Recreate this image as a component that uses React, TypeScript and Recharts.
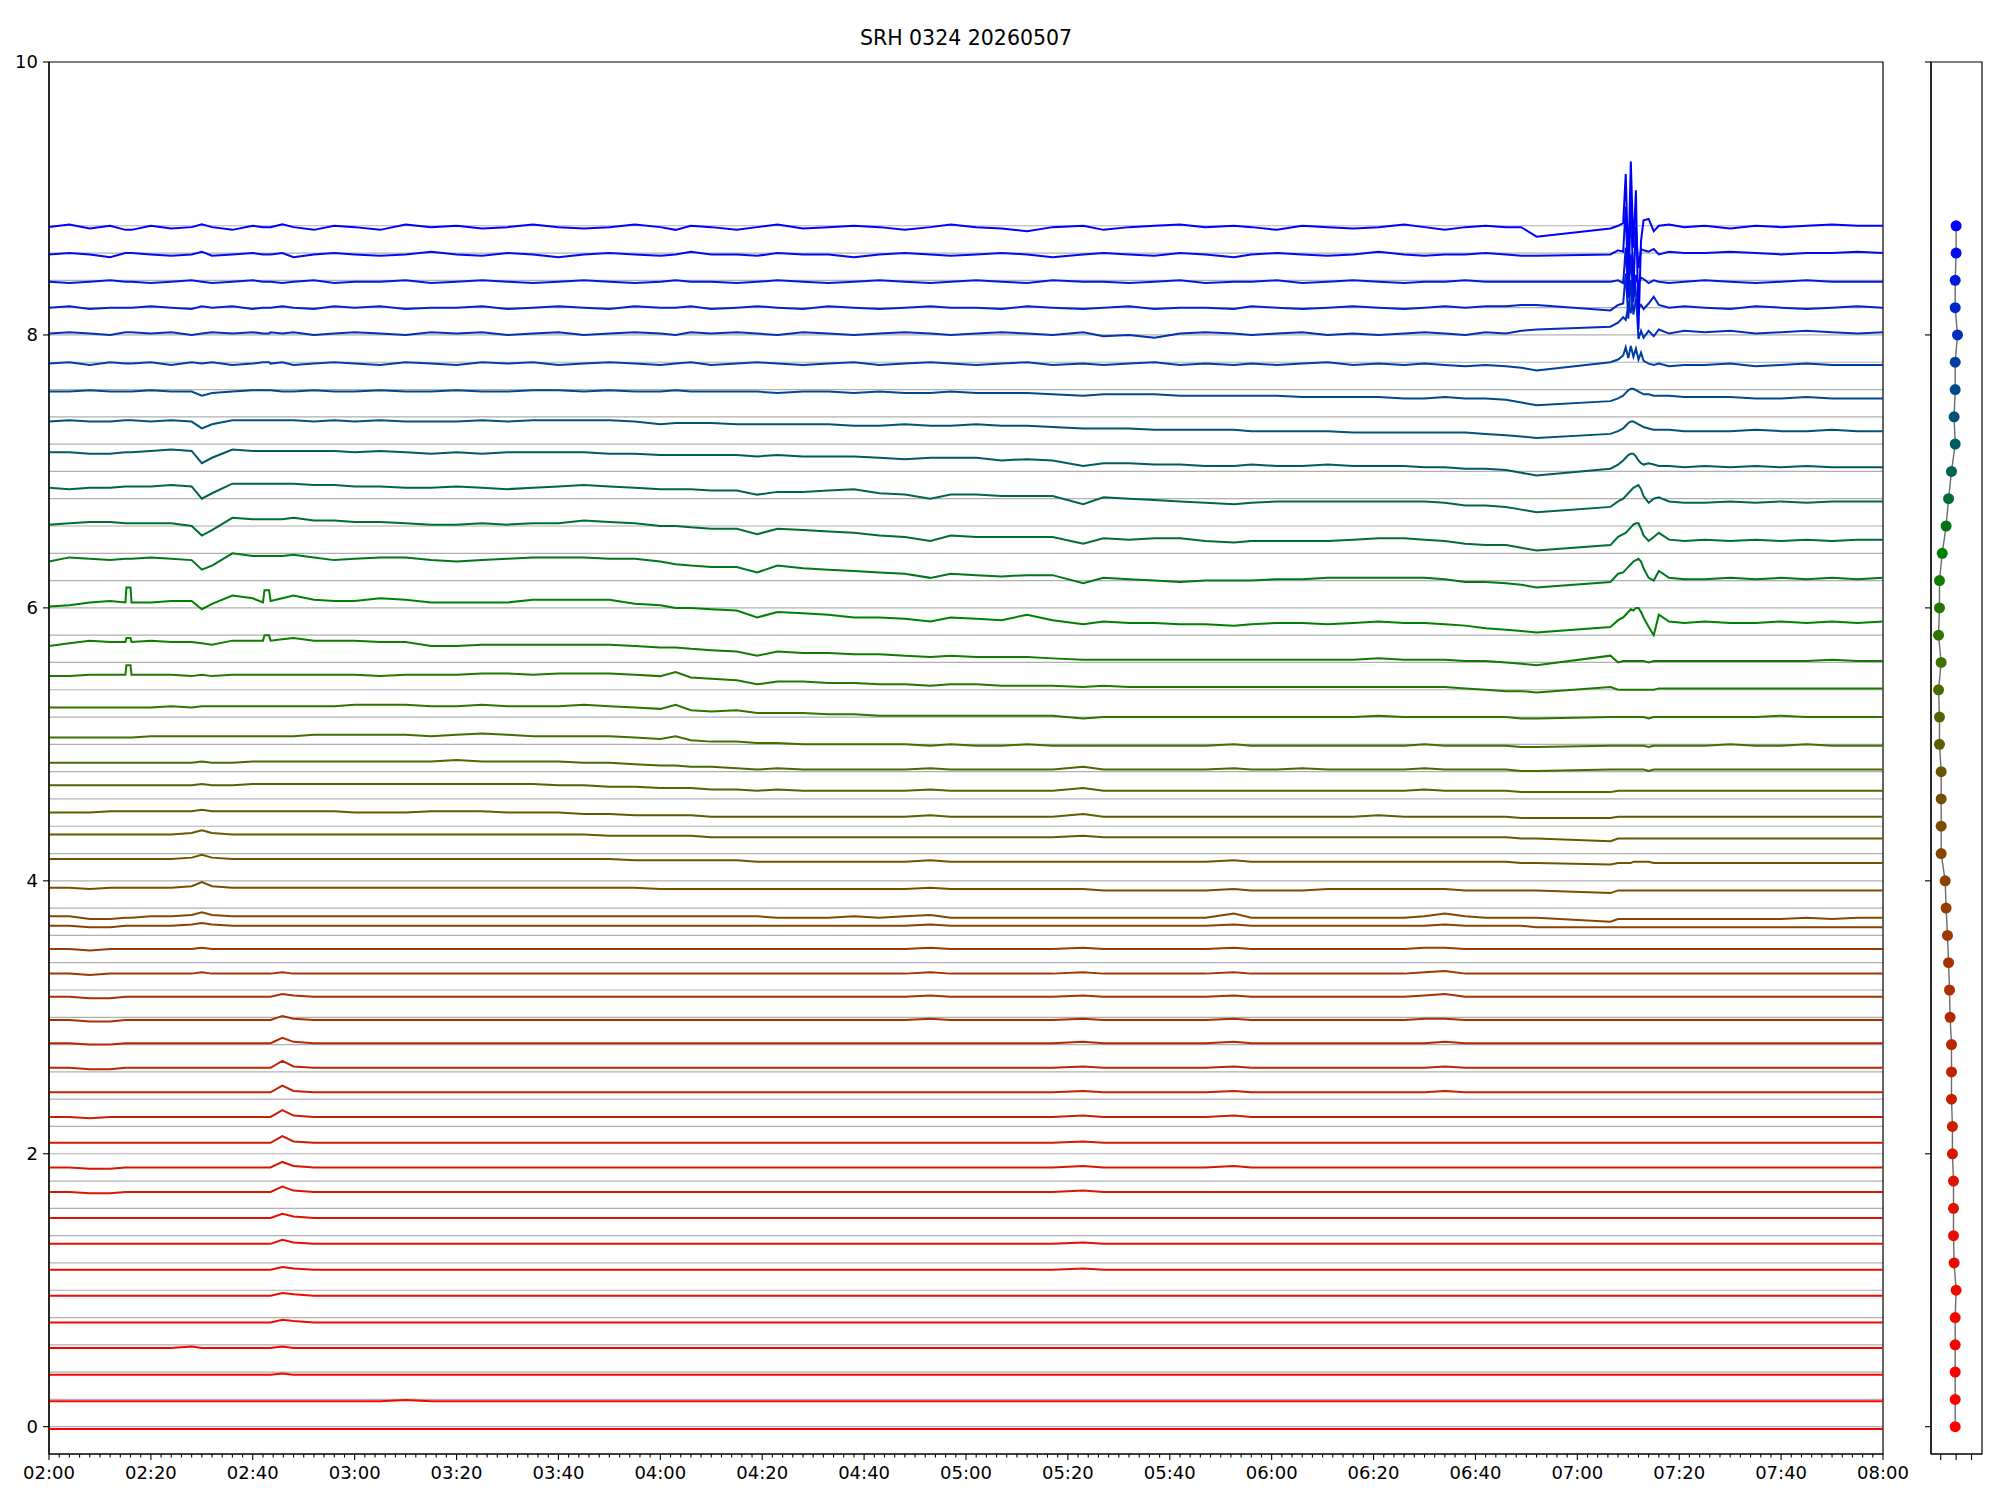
import React from 'react';
import {
  LineChart,
  Line,
  XAxis,
  YAxis,
  CartesianGrid,
  ReferenceArea,
  ComposedChart,
  Scatter,
} from 'recharts';

// sample times, minutes after 02:00 (no data between 06:52 and 07:06)
const minutes = [
  0, 4, 8, 12, 15, 15.2, 16, 16.2, 20, 24,
  28, 30, 32, 36, 40, 42, 42.3, 43.2, 43.5, 45.8,
  48, 52, 56, 60, 65, 70, 75, 80, 85, 90,
  95, 100, 105, 110, 115, 120, 123, 126, 130, 135,
  139, 143, 148, 153, 158, 163, 168, 173, 177, 182,
  187, 192, 197, 203, 207, 212, 217, 222, 227, 232.6,
  236, 241, 246, 251, 256, 261, 266, 270, 274, 278,
  282, 286, 289, 292, 306.5, 308, 309, 309.5, 310, 310.5,
  311, 311.5, 312, 312.5, 313, 314, 315, 316, 318, 321,
  325, 330, 335, 340, 345, 350, 355, 360,
];

const timeLabels = [
  '02:00', '02:20', '02:40', '03:00', '03:20', '03:40', '04:00', '04:20', '04:40', '05:00',
  '05:20', '05:40', '06:00', '06:20', '06:40', '07:00', '07:20', '07:40', '08:00',
];
const yTicks = [0, 2, 4, 6, 8, 10];
const sideTicks = [-1, 0, 1];

// channel slots (grey guide lines and the dots on the right panel)
const nominalLevels = [
  0, 0.2, 0.4, 0.6, 0.8, 1.0, 1.2, 1.4, 1.6, 1.8,
  2.0, 2.2, 2.4, 2.6, 2.8, 3.0, 3.2, 3.4, 3.6, 3.8,
  4.0, 4.2, 4.4, 4.6, 4.8, 5.0, 5.2, 5.4, 5.6, 5.8,
  6.0, 6.2, 6.4, 6.6, 6.8, 7.0, 7.2, 7.4, 7.6, 7.8,
  8.0, 8.2, 8.4, 8.6, 8.8,
];

// where each trace starts at 02:00
const startLevels = [
  -0.017, 0.186, 0.38, 0.577, 0.764, 0.96, 1.15, 1.34, 1.53, 1.72,
  1.9, 2.08, 2.27, 2.45, 2.63, 2.81, 2.98, 3.15, 3.32, 3.5,
  3.67, 3.74, 3.95, 4.16, 4.34, 4.5, 4.7, 4.865, 5.05, 5.27,
  5.5, 5.72, 6.01, 6.34, 6.61, 6.88, 7.14, 7.365, 7.585, 7.79,
  8.01, 8.2, 8.39, 8.59, 8.79,
];

// right panel x value per channel
const dotShift = [
  -0.06, -0.06, -0.06, -0.06, -0.06, 0, -0.13, -0.17, -0.17, -0.17,
  -0.24, -0.24, -0.3, -0.3, -0.3, -0.39, -0.43, -0.49, -0.56, -0.65,
  -0.71, -0.97, -0.97, -0.97, -0.97, -1.08, -1.08, -1.14, -0.97, -1.14,
  -1.08, -1.08, -0.9, -0.65, -0.49, -0.3, -0.06, -0.13, -0.06, -0.06,
  0.09, -0.06, -0.06, 0, 0,
];

// offsets from the start level, in hundredths, one value per sample time
const ch00 = [0,0,0,0,0,0,0,0,0,0, 0,0,0,0,0,0,0,0,0,0, 0,0,0,0,0,0,0,0,0,0, 0,0,0,0,0,0,0,0,0,0, 0,0,0,0,0,0,0,0,0,0, 0,0,0,0,0,0,0,0,0,0, 0,0,0,0,0,0,0,0,0,0, 0,0,0,0,0,0,0,0,0,0, 0,0,0,0,0,0,0,0,0,0, 0,0,0,0,0,0,0,0];
const ch01 = [0,0,0,0,0,0,0,0,0,0, 0,0,0,0,0,0,0,0,0,0, 0,0,0,0,0,1,0,0,0,0, 0,0,0,0,0,0,0,0,0,0, 0,0,0,0,0,0,0,0,0,0, 0,0,0,0,0,0,0,0,0,0, 0,0,0,0,0,0,0,0,0,0, 0,0,0,0,0,0,0,0,0,0, 0,0,0,0,0,0,0,0,0,0, 0,0,0,0,0,0,0,0];
const ch02 = [0,0,0,0,0,0,0,0,0,0, 0,0,0,0,0,0,0,0,0,1, 0,0,0,0,0,0,0,0,0,0, 0,0,0,0,0,0,0,0,0,0, 0,0,0,0,0,0,0,0,0,0, 0,0,0,0,0,0,0,0,0,0, 0,0,0,0,0,0,0,0,0,0, 0,0,0,0,0,0,0,0,0,0, 0,0,0,0,0,0,0,0,0,0, 0,0,0,0,0,0,0,0];
const ch03 = [0,0,0,0,0,0,0,0,0,0, 1,0,0,0,0,0,0,0,0,1, 0,0,0,0,0,0,0,0,0,0, 0,0,0,0,0,0,0,0,0,0, 0,0,0,0,0,0,0,0,0,0, 0,0,0,0,0,0,0,0,0,0, 0,0,0,0,0,0,0,0,0,0, 0,0,0,0,0,0,0,0,0,0, 0,0,0,0,0,0,0,0,0,0, 0,0,0,0,0,0,0,0];
const ch04 = [0,0,0,0,0,0,0,0,0,0, 0,0,0,0,0,0,0,0,0,2, 1,0,0,0,0,0,0,0,0,0, 0,0,0,0,0,0,0,0,0,0, 0,0,0,0,0,0,0,0,0,0, 0,0,0,0,0,0,0,0,0,0, 0,0,0,0,0,0,0,0,0,0, 0,0,0,0,0,0,0,0,0,0, 0,0,0,0,0,0,0,0,0,0, 0,0,0,0,0,0,0,0];
const ch05 = [0,0,0,0,0,0,0,0,0,0, 0,0,0,0,0,0,0,0,0,2, 1,0,0,0,0,0,0,0,0,0, 0,0,0,0,0,0,0,0,0,0, 0,0,0,0,0,0,0,0,0,0, 0,0,0,0,0,0,0,0,0,0, 0,0,0,0,0,0,0,0,0,0, 0,0,0,0,0,0,0,0,0,0, 0,0,0,0,0,0,0,0,0,0, 0,0,0,0,0,0,0,0];
const ch06 = [0,0,0,0,0,0,0,0,0,0, 0,0,0,0,0,0,0,0,0,2, 1,0,0,0,0,0,0,0,0,0, 0,0,0,0,0,0,0,0,0,0, 0,0,0,0,0,0,0,0,0,0, 0,0,0,1,0,0,0,0,0,0, 0,0,0,0,0,0,0,0,0,0, 0,0,0,0,0,0,0,0,0,0, 0,0,0,0,0,0,0,0,0,0, 0,0,0,0,0,0,0,0];
const ch07 = [0,0,0,0,0,0,0,0,0,0, 0,0,0,0,0,0,0,0,0,3, 1,0,0,0,0,0,0,0,0,0, 0,0,0,0,0,0,0,0,0,0, 0,0,0,0,0,0,0,0,0,0, 0,0,0,1,0,0,0,0,0,0, 0,0,0,0,0,0,0,0,0,0, 0,0,0,0,0,0,0,0,0,0, 0,0,0,0,0,0,0,0,0,0, 0,0,0,0,0,0,0,0];
const ch08 = [0,0,0,0,0,0,0,0,0,0, 0,0,0,0,0,0,0,0,0,3, 1,0,0,0,0,0,0,0,0,0, 0,0,0,0,0,0,0,0,0,0, 0,0,0,0,0,0,0,0,0,0, 0,0,0,0,0,0,0,0,0,0, 0,0,0,0,0,0,0,0,0,0, 0,0,0,0,0,0,0,0,0,0, 0,0,0,0,0,0,0,0,0,0, 0,0,0,0,0,0,0,0];
const ch09 = [0,0,-1,-1,0,0,0,0,0,0, 0,0,0,0,0,0,0,0,0,4, 1,0,0,0,0,0,0,0,0,0, 0,0,0,0,0,0,0,0,0,0, 0,0,0,0,0,0,0,0,0,0, 0,0,0,1,0,0,0,0,0,0, 0,0,0,0,0,0,0,0,0,0, 0,0,0,0,0,0,0,0,0,0, 0,0,0,0,0,0,0,0,0,0, 0,0,0,0,0,0,0,0];
const ch10 = [0,0,-1,-1,0,0,0,0,0,0, 0,0,0,0,0,0,0,0,0,4, 1,0,0,0,0,0,0,0,0,0, 0,0,0,0,0,0,0,0,0,0, 0,0,0,0,0,0,0,0,0,0, 0,0,0,1,0,0,0,0,0,1, 0,0,0,0,0,0,0,0,0,0, 0,0,0,0,0,0,0,0,0,0, 0,0,0,0,0,0,0,0,0,0, 0,0,0,0,0,0,0,0];
const ch11 = [0,0,0,0,0,0,0,0,0,0, 0,0,0,0,0,0,0,0,0,5, 1,0,0,0,0,0,0,0,0,0, 0,0,0,0,0,0,0,0,0,0, 0,0,0,0,0,0,0,0,0,0, 0,0,0,1,0,0,0,0,0,0, 0,0,0,0,0,0,0,0,0,0, 0,0,0,0,0,0,0,0,0,0, 0,0,0,0,0,0,0,0,0,0, 0,0,0,0,0,0,0,0];
const ch12 = [0,0,-1,0,0,0,0,0,0,0, 0,0,0,0,0,0,0,0,0,5, 1,0,0,0,0,0,0,0,0,0, 0,0,0,0,0,0,0,0,0,0, 0,0,0,0,0,0,0,0,0,0, 0,0,0,1,0,0,0,0,0,1, 0,0,0,0,0,0,0,0,0,0, 0,0,0,0,0,0,0,0,0,0, 0,0,0,0,0,0,0,0,0,0, 0,0,0,0,0,0,0,0];
const ch13 = [0,0,0,0,0,0,0,0,0,0, 0,0,0,0,0,0,0,0,0,5, 1,0,0,0,0,0,0,0,0,0, 0,0,0,0,0,0,0,0,0,0, 0,0,0,0,0,0,0,0,0,0, 0,0,0,1,0,0,0,0,0,1, 0,0,0,0,0,0,0,0,1,0, 0,0,0,0,0,0,0,0,0,0, 0,0,0,0,0,0,0,0,0,0, 0,0,0,0,0,0,0,0];
const ch14 = [0,0,-1,-1,0,0,0,0,0,0, 0,0,0,0,0,0,0,0,0,5, 1,0,0,0,0,0,0,0,0,0, 0,0,0,0,0,0,0,0,0,0, 0,0,0,0,0,0,0,0,0,0, 0,0,0,1,0,0,0,0,0,1, 0,0,0,0,0,0,0,0,1,0, 0,0,0,0,0,0,0,0,0,0, 0,0,0,0,0,0,0,0,0,0, 0,0,0,0,0,0,0,0];
const ch15 = [0,0,-1,-1,0,0,0,0,0,0, 0,0,0,0,0,0,0,0,0,4, 1,0,0,0,0,0,0,0,0,0, 0,0,0,0,0,0,0,0,0,0, 0,0,0,0,0,0,0,0,0,0, 0,0,0,1,0,0,0,0,0,1, 0,0,0,0,0,0,0,0,1,0, 0,0,0,0,0,0,0,0,0,0, 0,0,0,0,0,0,0,0,0,0, 0,0,0,0,0,0,0,0];
const ch16 = [0,0,-1,-1,0,0,0,0,0,0, 0,0,0,0,0,0,0,0,0,3, 1,0,0,0,0,0,0,0,0,0, 0,0,0,0,0,0,0,0,0,0, 0,0,0,0,0,0,0,1,0,0, 0,0,0,1,0,0,0,0,0,1, 0,0,0,0,0,0,0,1,1,0, 0,0,0,0,0,0,0,0,0,0, 0,0,0,0,0,0,0,0,0,0, 0,0,0,0,0,0,0,0];
const ch17 = [0,0,-1,-1,0,0,0,0,0,0, 0,0,0,0,0,0,0,0,0,2, 1,0,0,0,0,0,0,0,0,0, 0,0,0,0,0,0,0,0,0,0, 0,0,0,0,0,0,0,1,0,0, 0,0,0,1,0,0,0,0,0,1, 0,0,0,0,0,0,0,1,2,0, 0,0,0,0,0,0,0,0,0,0, 0,0,0,0,0,0,0,0,0,0, 0,0,0,0,0,0,0,0];
const ch18 = [0,0,-1,0,0,0,0,0,0,0, 0,1,0,0,0,0,0,0,0,1, 0,0,0,0,0,0,0,0,0,0, 0,0,0,0,0,0,0,0,0,0, 0,0,0,0,0,0,0,1,0,0, 0,0,0,1,0,0,0,0,0,1, 0,0,0,0,0,0,0,1,2,0, 0,0,0,0,0,0,0,0,0,0, 0,0,0,0,0,0,0,0,0,0, 0,0,0,0,0,0,0,0];
const ch19 = [0,0,-1,0,0,0,0,0,0,0, 0,1,0,0,0,0,0,0,0,0, 0,0,0,0,0,0,0,0,0,0, 0,0,0,0,0,0,0,0,0,0, 0,0,0,0,0,0,0,1,0,0, 0,0,0,1,0,0,0,0,0,1, 0,0,0,0,0,0,0,1,1,0, 0,0,0,0,0,0,0,0,0,0, 0,0,0,0,0,0,0,0,0,0, 0,0,0,0,0,0,0,0];
const ch20 = [0,0,-1,-1,0,0,0,0,0,0, 1,2,1,0,0,0,0,0,0,0, 0,0,0,0,0,0,0,0,0,0, 0,0,0,0,0,0,0,0,0,0, 0,0,0,0,0,0,0,1,0,0, 0,0,0,0,0,0,0,0,0,1, 0,0,0,0,0,0,0,0,1,0, 0,0,0,-1,-1,-1,-1,-1,-1,-1, -1,-1,-1,-1,-1,-1,-1,-1,-1,-1, -1,-1,-1,-1,-1,-1,-1,-1];
const ch21 = [0,0,-2,-2,-1,-1,-1,-1,0,0, 1,3,1,0,0,0,0,0,0,0, 0,0,0,0,0,0,0,0,0,0, 0,0,0,0,0,0,0,0,0,0, 0,-1,-1,-1,0,-1,0,1,-1,-1, -1,-1,-1,-1,-1,-1,-1,-1,-1,2, -1,-1,-1,-1,-1,-1,-1,0,2,0, -1,-1,-1,-1,-4,-2,-2,-2,-2,-2, -2,-2,-2,-2,-2,-2,-2,-2,-2,-2, -2,-2,-2,-2,-1,-2,-1,-1];
const ch22 = [0,0,-1,0,0,0,0,0,0,0, 1,4,1,0,0,0,0,0,0,0, 0,0,0,0,0,0,0,0,0,0, 0,0,0,0,0,-1,-1,-1,-1,-1, -1,-1,-1,-1,-1,-1,-1,0,-1,-1, -1,-1,-1,-1,-2,-2,-2,-2,-2,-1, -2,-2,-2,-1,-1,-1,-1,-1,-1,-2, -2,-2,-2,-2,-4,-2,-2,-2,-2,-2, -2,-2,-2,-2,-2,-2,-2,-2,-2,-2, -2,-2,-2,-2,-2,-2,-2,-2];
const ch23 = [0,0,0,0,0,0,0,0,0,0, 1,3,1,0,0,0,0,0,0,0, 0,0,0,0,0,0,0,0,0,0, 0,0,0,0,-1,-1,-1,-1,-1,-1, -2,-2,-2,-2,-2,-2,-2,-1,-2,-2, -2,-2,-2,-2,-2,-2,-2,-2,-2,-1, -2,-2,-2,-2,-2,-2,-2,-2,-2,-2, -2,-2,-3,-3,-4,-3,-3,-3,-3,-3, -2,-2,-2,-2,-2,-2,-3,-3,-3,-3, -3,-3,-3,-3,-3,-3,-3,-3];
const ch24 = [0,0,0,0,0,0,0,0,0,0, 1,3,1,0,0,0,0,0,0,0, 0,0,0,0,0,0,0,0,0,0, 0,0,0,-1,-1,-1,-1,-1,-2,-2, -2,-2,-2,-2,-2,-2,-2,-2,-2,-2, -2,-2,-2,-1,-2,-2,-2,-2,-2,-2, -2,-2,-2,-2,-2,-2,-2,-2,-2,-2, -2,-2,-3,-3,-5,-3,-3,-3,-3,-3, -3,-3,-3,-3,-3,-3,-3,-3,-3,-3, -3,-3,-3,-3,-3,-3,-3,-3];
const ch25 = [0,0,0,1,1,1,1,1,1,1, 1,2,1,1,1,1,1,1,1,1, 1,1,1,0,0,0,1,1,1,0, 0,0,-1,-1,-2,-2,-2,-2,-3,-3, -3,-3,-3,-3,-3,-3,-3,-2,-3,-3, -3,-3,-3,-1,-3,-3,-3,-3,-3,-3, -3,-3,-3,-3,-3,-2,-3,-3,-3,-3, -3,-3,-4,-4,-4,-3,-3,-3,-3,-3, -3,-3,-3,-3,-3,-3,-3,-3,-3,-3, -3,-3,-3,-3,-3,-3,-3,-3];
const ch26 = [0,0,0,0,0,0,0,0,0,0, 0,1,0,0,1,1,1,1,1,1, 1,1,1,1,1,1,1,1,1,1, 1,0,0,-1,-1,-2,-2,-2,-3,-3, -4,-3,-4,-4,-4,-4,-4,-3,-4,-4, -4,-4,-4,-2,-4,-4,-4,-4,-4,-4, -4,-4,-4,-4,-4,-4,-4,-3,-4,-4, -4,-4,-5,-5,-5,-4,-4,-4,-4,-4, -4,-4,-4,-4,-4,-4,-4,-4,-4,-4, -4,-4,-4,-4,-4,-4,-4,-4];
const ch27 = [0,0,0,0,0,0,0,0,0,0, 0,1,0,0,1,1,1,1,1,1, 1,1,1,1,1,1,1,2,1,1, 1,1,0,0,-1,-2,-2,-3,-3,-4, -5,-4,-5,-5,-5,-5,-5,-4,-5,-5, -5,-5,-5,-3,-5,-5,-5,-5,-5,-4, -5,-5,-4,-5,-5,-5,-5,-4,-5,-5, -5,-5,-6,-6,-5,-5,-5,-5,-5,-5, -5,-5,-5,-5,-5,-6,-5,-5,-5,-5, -5,-5,-5,-5,-5,-5,-5,-5];
const ch28 = [0,0,0,0,0,0,0,0,1,1, 1,1,1,1,1,1,1,1,1,1, 1,2,2,2,2,2,1,2,3,2, 1,1,1,1,0,-1,1,-2,-3,-3, -4,-4,-5,-5,-5,-5,-5,-6,-5,-6, -6,-5,-6,-6,-6,-6,-6,-6,-6,-5, -6,-6,-6,-6,-6,-6,-6,-5,-6,-6, -6,-6,-7,-7,-6,-6,-6,-6,-6,-6, -6,-6,-6,-6,-6,-7,-6,-6,-6,-6, -6,-5,-6,-6,-5,-6,-6,-6];
const ch29 = [0,0,0,0,0,0,0,0,0,1, 0,1,1,1,1,1,1,1,1,1, 1,1,1,2,2,2,1,1,2,1, 1,1,2,1,0,-1,2,-2,-3,-2, -4,-4,-4,-5,-5,-6,-6,-6,-6,-6, -6,-6,-6,-8,-7,-7,-7,-7,-7,-7, -7,-7,-7,-7,-7,-6,-7,-7,-7,-7, -7,-7,-8,-8,-7,-7,-7,-7,-7,-7, -7,-7,-7,-7,-7,-8,-7,-7,-7,-7, -7,-7,-7,-6,-7,-7,-7,-7];
const ch30 = [0,0,1,1,1,8,8,1,1,1, 0,1,0,1,1,1,1,1,1,1, 1,1,1,1,0,1,1,1,2,2, 1,2,2,2,1,0,3,-1,-2,-3, -6,-4,-4,-5,-5,-6,-6,-7,-6,-6, -7,-7,-7,-8,-7,-8,-8,-8,-8,-8, -8,-8,-8,-8,-8,-8,-8,-8,-8,-9, -10,-11,-11,-12,-8,-10,-10,-10,-10,-10, -10,-10,-10,-10,-10,-10,-10,-9,-9,-9, -9,-9,-9,-9,-9,-9,-9,-9];
const ch31 = [0,2,4,3,3,6,6,3,4,3, 3,2,1,4,4,4,8,8,4,5, 6,4,4,4,3,3,0,0,1,1, 1,1,1,1,0,-1,-1,-2,-3,-4, -7,-4,-5,-5,-6,-6,-7,-8,-7,-8, -8,-8,-9,-10,-10,-10,-10,-10,-10,-10, -10,-10,-10,-10,-10,-9,-10,-10,-10,-11, -11,-12,-13,-14,-7,-12,-11,-11,-11,-11, -11,-11,-11,-11,-11,-12,-11,-11,-11,-11, -11,-11,-11,-11,-11,-10,-11,-11];
const ch32 = [0,1,3,4,3,14,14,3,3,4, 4,-2,2,8,6,3,12,12,4,6, 8,5,4,4,6,5,3,3,3,3, 5,5,5,5,2,1,-1,-1,-2,-3, -8,-4,-5,-6,-8,-8,-9,-11,-8,-9, -10,-6,-10,-13,-11,-12,-12,-13,-13,-14, -13,-12,-12,-13,-12,-11,-12,-12,-13,-14, -16,-17,-18,-19,-15,-10,-8,-6,-4,-2, -3,-1,-1,-4,-8,-15,-21,-6,-11,-12, -11,-12,-12,-11,-12,-11,-12,-11];
const ch33 = [0,3,2,1,2,2,2,2,3,2, 1,-6,-3,6,4,4,4,4,4,4, 5,3,1,2,3,3,1,0,1,2, 3,3,3,2,2,0,-2,-3,-4,-4, -8,-3,-5,-6,-7,-8,-9,-12,-9,-10, -11,-10,-10,-16,-12,-13,-14,-15,-14,-14, -14,-13,-13,-12,-12,-12,-12,-12,-13,-15, -15,-16,-17,-19,-15,-9,-8,-6,-4,-2, 0,1,2,0,-5,-12,-14,-7,-12,-13, -13,-12,-13,-12,-13,-12,-13,-12];
const ch34 = [0,1,2,2,1,1,1,1,1,1, -1,-8,-4,5,4,4,4,4,4,4, 5,3,3,2,2,1,0,0,1,0, 1,1,3,2,1,-1,-1,-2,-3,-3, -7,-3,-4,-5,-6,-8,-9,-12,-8,-9, -9,-9,-9,-14,-10,-11,-10,-10,-12,-13, -12,-12,-12,-12,-11,-10,-10,-11,-12,-14, -15,-15,-17,-19,-15,-9,-7,-6,-4,-2, 0,1,1,-3,-8,-12,-9,-6,-11,-12, -11,-12,-11,-12,-11,-12,-11,-11];
const ch35 = [0,-1,0,0,1,1,1,1,1,2, 1,-8,-4,3,3,3,3,3,3,3, 3,2,2,1,1,0,0,1,0,-1, 0,1,2,1,0,-1,-1,-1,-2,-2, -5,-3,-3,-2,-1,-4,-5,-8,-5,-5, -6,-6,-6,-12,-7,-8,-9,-10,-11,-12, -11,-10,-10,-10,-10,-10,-10,-10,-11,-13, -13,-14,-16,-18,-14,-10,-8,-6,-4,-2, 0,1,2,-1,-6,-11,-8,-7,-10,-11, -11,-10,-11,-10,-11,-10,-10,-10];
const ch36 = [0,0,-1,-1,0,0,0,0,1,2, 1,-8,-4,2,1,1,1,1,1,1, 1,1,1,0,1,0,-1,0,-1,0, 0,0,0,-1,-1,-2,-2,-2,-2,-2, -3,-2,-3,-3,-3,-4,-5,-4,-4,-4, -6,-5,-6,-10,-8,-8,-9,-9,-10,-10, -9,-10,-10,-9,-10,-10,-10,-11,-11,-12, -12,-13,-15,-17,-12,-9,-6,-4,-2,-1, -1,-3,-6,-8,-9,-8,-9,-10,-10,-11, -10,-11,-10,-11,-10,-11,-11,-11];
const ch37 = [0,1,0,0,1,1,1,1,0,1, 0,-5,-2,1,1,1,1,1,1,1, 1,0,1,0,1,0,0,0,1,0, 1,1,1,1,0,-2,-1,-1,-1,-2, -2,-2,-2,-2,-3,-3,-2,-3,-3,-2, -3,-3,-4,-5,-5,-5,-6,-6,-6,-6, -7,-7,-7,-7,-8,-8,-8,-8,-8,-8, -9,-10,-11,-12,-9,-7,-5,-3,-1,0, 0,-1,-2,-3,-4,-5,-6,-6,-6,-7, -7,-7,-6,-7,-7,-6,-7,-7];
const ch38 = [0,0,1,0,0,0,0,0,1,0, 0,-3,-1,0,1,1,1,1,1,0, 0,1,0,0,1,0,0,1,0,0, 1,1,0,1,0,0,1,0,0,0, 0,-1,0,0,-1,0,-1,-1,0,-1, -1,-1,-2,-3,-2,-2,-2,-3,-3,-3, -3,-3,-4,-4,-4,-4,-5,-5,-4,-5, -5,-6,-8,-10,-7,-5,-3,-1,1,2, 2,1,0,-1,-2,-2,-3,-3,-3,-4, -4,-4,-5,-5,-4,-5,-5,-5];
const ch39 = [0,1,-1,1,0,0,0,0,1,-1, 1,0,1,-1,0,1,1,1,0,1, -1,0,1,0,-1,1,0,-1,1,0, 1,-1,0,1,0,-1,0,1,-1,0, 1,0,-1,0,1,-1,0,1,0,-1, 0,1,-1,0,-1,0,1,-1,0,-1, 0,-1,0,1,-1,0,-1,0,-1,-2, -1,-2,-3,-5,1,3,6,12,4,13, 5,11,3,8,2,0,-1,0,-2,-1, -1,0,-2,-1,0,-1,-1,-1];
const ch40 = [0,1,0,-1,1,1,1,1,0,1, -1,0,1,0,1,0,0,0,1,0, 1,-1,0,1,0,-1,1,0,1,-1, 0,1,-1,0,1,0,-1,1,0,1, 0,-1,1,0,-1,0,1,0,-1,0, 1,0,-1,1,-2,-1,-3,0,1,0, -1,0,1,-1,0,-1,0,1,0,-1, 1,0,2,3,5,8,12,10,20,15, 45,30,-4,2,-3,2,-2,3,0,2, 1,2,0,1,2,1,0,1];
const ch41 = [0,1,-1,0,0,0,0,0,1,0, -1,1,0,1,-1,0,0,0,0,1, 0,-1,1,0,1,-1,0,0,1,-1, 0,1,0,-1,1,0,0,1,-1,0, 1,0,-1,1,0,-1,0,1,0,0, -1,1,0,-1,0,1,-1,0,0,-1, 1,0,-1,0,1,0,-1,0,1,0, 1,1,2,2,-2,2,3,25,-8,20, -5,6,0,2,-1,3,8,2,0,1, 0,-1,1,0,-1,0,1,0];
const ch42 = [0,-1,0,1,0,0,0,0,-1,0, 1,0,-1,0,1,0,0,0,0,-1, 0,1,-1,0,0,1,-1,0,1,0, -1,0,1,0,-1,0,1,0,0,-1, 0,1,0,-1,0,1,0,-1,0,1, 0,-1,1,0,0,-1,0,1,-1,0, 0,1,-1,0,1,0,-1,0,0,1, 0,0,0,0,0,1,-1,25,-12,20, -15,5,-2,3,2,-1,1,0,-1,0, 1,0,-1,0,1,0,0,0];
const ch43 = [0,1,0,-2,1,1,1,1,0,-1, 0,2,-1,0,1,0,0,0,0,1, -2,0,1,0,-1,0,2,0,-1,1, 0,-2,0,1,0,-1,0,2,0,0, -1,1,0,0,-2,0,1,0,-1,0, 1,0,-2,0,1,0,-1,1,0,-2, 0,1,0,-1,0,2,0,-1,0,0, 1,0,-1,-1,0,3,2,35,-30,40, -25,20,-10,4,3,2,4,0,2,1, 1,2,1,0,1,1,2,1];
const ch44 = [0,2,-1,1,-2,-2,-2,-2,1,-1, 0,2,0,-2,1,0,0,0,0,2, 0,-2,1,0,-2,2,0,1,-1,0, 2,0,-1,0,2,0,-2,1,0,-2, 0,2,-1,0,1,0,-2,0,2,0, -1,-3,0,1,-2,0,1,2,0,1, 0,-2,1,0,-1,0,2,0,-2,0, 1,0,0,-7,-1,1,3,39,-30,48, -15,27,-75,-10,5,6,-3,1,2,0, 1,-1,1,0,1,2,1,1];

const channels = [
  ch00, ch01, ch02, ch03, ch04, ch05, ch06, ch07, ch08, ch09,
  ch10, ch11, ch12, ch13, ch14, ch15, ch16, ch17, ch18, ch19,
  ch20, ch21, ch22, ch23, ch24, ch25, ch26, ch27, ch28, ch29,
  ch30, ch31, ch32, ch33, ch34, ch35, ch36, ch37, ch38, ch39,
  ch40, ch41, ch42, ch43, ch44,
];

const FONT = '"DejaVu Sans", sans-serif';
const PLOT_BOTTOM = 1454;

// red at the bottom channel, green in the middle, blue at the top
const colorStops: [number, number, number, number][] = [
  [0, 255, 0, 0], [8, 226, 16, 0], [14, 187, 38, 0], [19, 150, 60, 0],
  [22, 122, 76, 0], [25, 94, 94, 0], [28, 64, 112, 0], [32, 0, 128, 0],
  [35, 0, 100, 80], [38, 0, 74, 138], [41, 0, 37, 204], [44, 0, 0, 255],
];

function channelColor(i: number) {
  for (let s = 0; s < colorStops.length - 1; s++) {
    const a = colorStops[s];
    const b = colorStops[s + 1];
    if (i >= a[0] && i <= b[0]) {
      const f = (i - a[0]) / (b[0] - a[0]);
      const c = [1, 2, 3].map((k) => Math.round(a[k] + (b[k] - a[k]) * f));
      return `rgb(${c[0]},${c[1]},${c[2]})`;
    }
  }
  return '#0000ff';
}

const tableRows = minutes.map((t, k) => {
  const row: Record<string, number> = { t };
  channels.forEach((ch, i) => {
    row[`c${i}`] = startLevels[i] + (ch[k] ?? 0) / 100;
  });
  return row;
});

const sideRows = nominalLevels.map((y, i) => ({ x: dotShift[i], y, color: channelColor(i) }));

const minorTicks = Array.from({ length: 181 }, (_, k) => k * 2);

// eslint-disable-next-line @typescript-eslint/no-explicit-any
const TimeTick = (props: any) => {
  const { x, payload } = props;
  const m = payload.value as number;
  const major = m % 20 === 0;
  return (
    <g>
      <line x1={x} x2={x} y1={PLOT_BOTTOM} y2={PLOT_BOTTOM + (major ? 6 : 3.5)} stroke="#000" strokeWidth={1.1} />
      {major && (
        <text x={x} y={PLOT_BOTTOM + 25} textAnchor="middle" fontSize={18} fontFamily={FONT} fill="#000">
          {timeLabels[m / 20]}
        </text>
      )}
    </g>
  );
};

// eslint-disable-next-line @typescript-eslint/no-explicit-any
const DotShape = (props: any) => <circle cx={props.cx} cy={props.cy} r={5.5} fill={props.payload.color} />;

export default function App() {
  return (
    <div style={{ position: 'relative', width: 2000, height: 1500, background: '#fff', fontFamily: FONT }}>
      <style>{'body{margin:0}'}</style>
      <div
        style={{
          position: 'absolute', left: 0, top: 25, width: 1932, textAlign: 'center',
          fontSize: 20.5, lineHeight: '26px', color: '#000',
        }}
      >
        SRH 0324 20260507
      </div>

      <div style={{ position: 'absolute', left: 0, top: 0 }}>
        <LineChart width={1960} height={1500} data={tableRows} margin={{ top: 62, right: 77, bottom: 0, left: 0 }}>
          <CartesianGrid vertical={false} horizontalValues={nominalLevels} stroke="#b0b0b0" strokeWidth={1.2} />
          <XAxis
            dataKey="t"
            type="number"
            domain={[0, 360]}
            ticks={minorTicks}
            interval={0}
            tick={TimeTick}
            tickLine={false}
            axisLine={{ stroke: '#000', strokeWidth: 1.2 }}
            height={46}
            allowDataOverflow
          />
          <YAxis
            type="number"
            domain={[-0.2, 10]}
            ticks={yTicks}
            interval={0}
            width={49}
            tickSize={6}
            tickMargin={5}
            tick={{ fill: '#000', fontSize: 18, fontFamily: FONT }}
            tickLine={{ stroke: '#000', strokeWidth: 1.1 }}
            axisLine={{ stroke: '#000', strokeWidth: 1.2 }}
            allowDataOverflow
          />
          {channels.map((_, i) => (
            <Line
              key={i}
              dataKey={`c${i}`}
              stroke={channelColor(i)}
              strokeWidth={2}
              dot={false}
              activeDot={false}
              isAnimationActive={false}
            />
          ))}
          <ReferenceArea x1={0} x2={360} y1={-0.2} y2={10} fill="none" fillOpacity={0} stroke="#000" strokeWidth={1.2} />
        </LineChart>
      </div>

      <div style={{ position: 'absolute', left: 1900, top: 0 }}>
        <ComposedChart width={100} height={1500} data={sideRows} margin={{ top: 62, right: 18, bottom: 0, left: 0 }}>
          <XAxis
            dataKey="x"
            type="number"
            domain={[-1.63, 1.68]}
            ticks={sideTicks}
            interval={0}
            tickFormatter={() => ''}
            tickSize={6}
            tickLine={{ stroke: '#000', strokeWidth: 1.1 }}
            axisLine={{ stroke: '#000', strokeWidth: 1.2 }}
            height={46}
            allowDataOverflow
          />
          <YAxis
            dataKey="y"
            type="number"
            domain={[-0.2, 10]}
            ticks={yTicks}
            interval={0}
            tickFormatter={() => ''}
            tickSize={6}
            width={31}
            tickLine={{ stroke: '#000', strokeWidth: 1.1 }}
            axisLine={{ stroke: '#000', strokeWidth: 1.2 }}
            allowDataOverflow
          />
          <Scatter dataKey="y" shape={DotShape} isAnimationActive={false} />
          <Line dataKey="y" stroke="#3a3a3a" strokeOpacity={0.75} strokeWidth={1.4} dot={false} activeDot={false} isAnimationActive={false} />
          <ReferenceArea x1={-1.63} x2={1.68} y1={-0.2} y2={10} fill="none" fillOpacity={0} stroke="#000" strokeWidth={1.2} />
        </ComposedChart>
      </div>
    </div>
  );
}
